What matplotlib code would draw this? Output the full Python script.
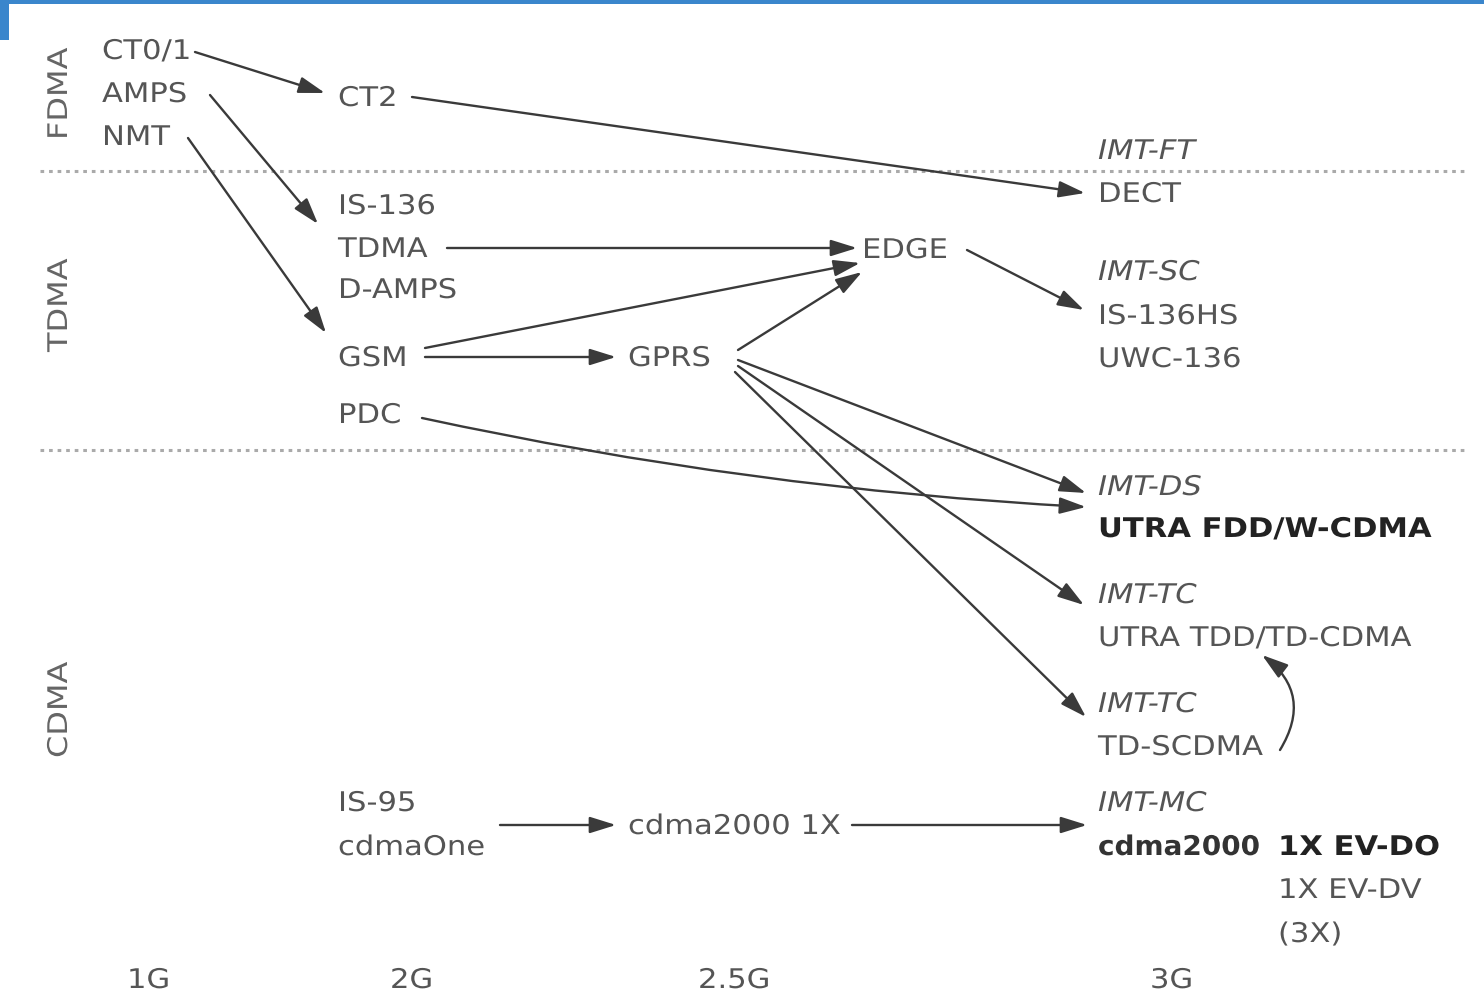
import matplotlib
matplotlib.use('Agg')
import matplotlib.pyplot as plt
from matplotlib.patches import Rectangle
from matplotlib.patheffects import AbstractPathEffect
from matplotlib.transforms import Affine2D

W, H = 1484, 996
TEXT_COL = '#555555'
LINE_COL = '#3a3a3a'

# access families (rotated labels on the left), y is where the word starts
families = ['FDMA', 'TDMA', 'CDMA']
family_y = [140, 352, 758]

# generation labels along the bottom
generations = ['1G', '2G', '2.5G', '3G']
generation_x = [127, 390, 698, 1150]

# systems: (label, x, y, style)
systems = [
    ('CT0/1', 102, 52, 'normal'),
    ('AMPS', 102, 95, 'normal'),
    ('NMT', 102, 138, 'normal'),
    ('CT2', 338, 99, 'normal'),
    ('IS-136', 338, 207, 'normal'),
    ('TDMA', 338, 250, 'normal'),
    ('D-AMPS', 338, 291, 'normal'),
    ('GSM', 338, 359, 'normal'),
    ('PDC', 338, 416, 'normal'),
    ('IS-95', 338, 804, 'normal'),
    ('cdmaOne', 338, 848, 'normal'),
    ('GPRS', 628, 359, 'normal'),
    ('cdma2000 1X', 628, 827, 'normal'),
    ('EDGE', 862, 251, 'normal'),
    ('IMT-FT', 1098, 152, 'italic'),
    ('DECT', 1098, 195, 'normal'),
    ('IMT-SC', 1098, 273, 'italic'),
    ('IS-136HS', 1098, 317, 'normal'),
    ('UWC-136', 1098, 360, 'normal'),
    ('IMT-DS', 1098, 488, 'italic'),
    ('UTRA FDD/W-CDMA', 1098, 530, 'bold'),
    ('IMT-TC', 1098, 596, 'italic'),
    ('UTRA TDD/TD-CDMA', 1098, 639, 'normal'),
    ('IMT-TC', 1098, 705, 'italic'),
    ('TD-SCDMA', 1098, 748, 'normal'),
    ('IMT-MC', 1098, 804, 'italic'),
    ('cdma2000', 1098, 848, 'semibold'),
    ('1X EV-DO', 1278, 848, 'bold'),
    ('1X EV-DV', 1278, 891, 'normal'),
    ('(3X)', 1278, 935, 'normal'),
]

# evolution arrows: (start, end, curvature)
arrows = [
    ((195, 52), (325, 93), 0),
    ((210, 95), (318, 224), 0),
    ((188, 138), (326, 333), 0),
    ((412, 97), (1085, 193), 0),
    ((447, 248), (857, 248), 0),
    ((425, 348), (860, 263), 0),
    ((425, 357), (616, 357), 0),
    ((738, 350), (862, 272), 0),
    ((967, 250), (1084, 310), 0),
    ((738, 360), (1086, 493), 0),
    ((422, 418), (1086, 507), 0.04),
    ((738, 366), (1084, 605), 0),
    ((735, 372), (1086, 717), 0),
    ((500, 825), (616, 825), 0),
    ((852, 825), (1087, 825), 0),
    ((1280, 750), (1262, 655), 0.45),
]

# divider rows between access families
divider_y = [171, 450]


class Stretch(AbstractPathEffect):
    # the source face is wide and letter-spaced, so widen glyphs a bit
    def __init__(self, sx):
        super().__init__()
        self.sx = sx

    def draw_path(self, renderer, gc, tpath, affine, rgbFace=None):
        renderer.draw_path(gc, tpath, Affine2D().scale(self.sx, 1) + affine, rgbFace)


fig = plt.figure(figsize=(W / 100, H / 100), dpi=100)
ax = fig.add_axes([0, 0, 1, 1])
ax.set_xlim(0, W)
ax.set_ylim(H, 0)
ax.axis('off')

plt.rcParams['font.family'] = ['DejaVu Sans']
FS = 19.5
wide = [Stretch(1.13)]

# blue frame bits at the top
ax.add_patch(Rectangle((0, 0), W, 4, color='#3a86cc', lw=0))
ax.add_patch(Rectangle((0, 0), 9, 40, color='#3a86cc', lw=0))

for y in divider_y:
    ax.plot([40, 1468], [y, y], color='#aaaaaa', lw=2.2, ls=(0, (1.2, 1.6)))

for name, y in zip(families, family_y):
    ax.text(60, y, name, rotation=90, rotation_mode='anchor', ha='left', va='center',
            fontsize=FS, color='#666666', path_effects=[Stretch(1.18)])

for name, x in zip(generations, generation_x):
    ax.text(x, 981, name, ha='left', va='center', fontsize=FS, color=TEXT_COL,
            path_effects=wide)

for label, x, y, style in systems:
    kw = dict(ha='left', va='center', fontsize=FS, color=TEXT_COL, path_effects=wide)
    if style == 'italic':
        kw['style'] = 'italic'
    elif style == 'bold':
        kw['weight'] = 'bold'
        kw['color'] = '#222222'
    elif style == 'semibold':
        kw['weight'] = 'bold'
        kw['color'] = '#333333'
        kw['path_effects'] = [Stretch(1.03)]
    ax.text(x, y, label, **kw)

for (x0, y0), (x1, y1), rad in arrows:
    ax.annotate('', xy=(x1, y1), xytext=(x0, y0),
                arrowprops=dict(arrowstyle='-|>,head_length=1.6,head_width=0.5',
                                color=LINE_COL, lw=1.7, shrinkA=0, shrinkB=0,
                                connectionstyle=f'arc3,rad={rad}'))

fig.savefig('out.png', dpi=100, facecolor='white')
